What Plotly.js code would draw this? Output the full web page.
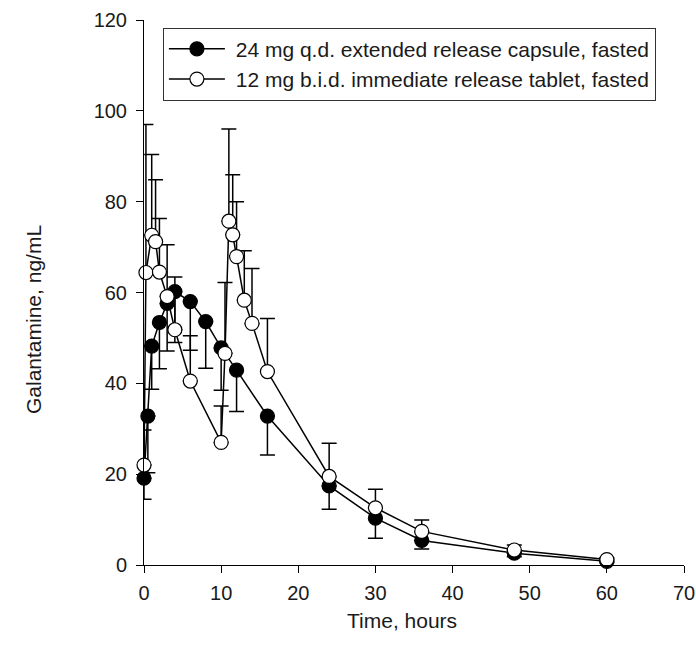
<!DOCTYPE html>
<html>
<head>
<meta charset="utf-8">
<script src="https://cdn.plot.ly/plotly-3.0.1.min.js"></script>
<style>html,body{margin:0;padding:0;background:#fff}#chart{width:696px;height:653px}</style>
</head>
<body>
<div id="chart"></div>
<script>
// 24 mg q.d. extended release capsule, fasted
const timeER = [0, 0.5, 1, 2, 3, 4, 6, 8, 10, 12, 16, 24, 30, 36, 48, 60];
const concER = [19.1, 32.8, 48.2, 53.4, 57.6, 60.2, 58.0, 53.6, 47.8, 42.9, 32.8, 17.4, 10.3, 5.4, 2.6, 0.8];
const errER  = [4.6, 12.5, 9.5, 10.2, 10.5, 11.2, 10.7, 10.3, 9.3, 9.1, 8.6, 5.1, 4.4, 1.9, 0.8, 0.3];

// 12 mg b.i.d. immediate release tablet, fasted
const timeIR = [0, 0.25, 1, 1.5, 2, 3, 4, 6, 10, 10.5, 11, 11.5, 12, 13, 14, 16, 24, 30, 36, 48, 60];
const concIR = [22.0, 64.4, 72.6, 71.2, 64.5, 59.1, 51.8, 40.5, 27.0, 46.6, 75.7, 72.7, 67.9, 58.3, 53.2, 42.6, 19.5, 12.6, 7.4, 3.3, 1.2];
const errIR  = [7.7, 32.6, 17.8, 13.6, 11.8, 11.4, 11.6, 10.0, 8.0, 15.6, 20.3, 13.2, 12.1, 10.9, 12.1, 11.7, 7.3, 4.1, 2.5, 1.1, 0.4];

const seriesNames = ['24 mg q.d. extended release capsule, fasted', '12 mg b.i.d. immediate release tablet, fasted'];
const xTitle = 'Time, hours';
const yTitle = 'Galantamine, ng/mL';
const xTicks = [0, 10, 20, 30, 40, 50, 60, 70];
const yTicks = [0, 20, 40, 60, 80, 100, 120];

const FONT = 'Arial, "Liberation Sans", sans-serif';
const TXT = '#1a1a1a';
const zeros = n => new Array(n).fill(0);

const traces = [
  {
    x: timeER, y: concER, name: '\u00a0' + seriesNames[0], type: 'scatter', mode: 'lines+markers',
    cliponaxis: false,
    line: {color: '#000', width: 1.5},
    marker: {symbol: 'circle', size: 14, color: '#000', line: {color: '#000', width: 1.2}},
    error_y: {type: 'data', symmetric: false, array: zeros(errER.length), arrayminus: errER,
              color: '#000', thickness: 1.5, width: 7.5}
  },
  {
    x: timeIR, y: concIR, name: '\u00a0' + seriesNames[1], type: 'scatter', mode: 'lines+markers',
    cliponaxis: false,
    line: {color: '#000', width: 1.5},
    marker: {symbol: 'circle', size: 14, color: '#fff', line: {color: '#000', width: 1.2}},
    error_y: {type: 'data', symmetric: false, array: errIR, arrayminus: zeros(errIR.length),
              color: '#000', thickness: 1.5, width: 7.5}
  }
];

const layout = {
  width: 696, height: 653,
  margin: {l: 144, r: 12, t: 20, b: 88},
  paper_bgcolor: '#fff', plot_bgcolor: '#fff',
  font: {family: FONT, color: TXT, size: 20},
  showlegend: true,
  legend: {
    x: 0.035, y: 0.986, xanchor: 'left', yanchor: 'top',
    bordercolor: '#333', borderwidth: 1, bgcolor: '#fff',
    font: {family: FONT, size: 21, color: TXT},
    itemwidth: 56, tracegroupgap: 0
  },
  xaxis: {
    range: [0, 70], tickvals: xTicks, ticktext: xTicks.map(String),
    ticks: 'outside', ticklen: 7, tickwidth: 1, tickcolor: '#000',
    ticklabelstandoff: 3,
    showline: true, linecolor: '#000', linewidth: 1,
    showgrid: false, zeroline: false,
    tickfont: {family: FONT, size: 20, color: TXT}
  },
  yaxis: {
    range: [0, 120], tickvals: yTicks, ticktext: yTicks.map(String),
    ticks: 'outside', ticklen: 7, tickwidth: 1, tickcolor: '#000',
    ticklabelstandoff: 5,
    showline: true, linecolor: '#000', linewidth: 1,
    showgrid: false, zeroline: false,
    tickfont: {family: FONT, size: 20, color: TXT}
  },
  annotations: [
    {text: xTitle, xref: 'paper', yref: 'paper', x: 0.477, y: 0, xanchor: 'center', yanchor: 'middle',
     yshift: -55, showarrow: false, font: {family: FONT, size: 21, color: TXT}},
    {text: yTitle, xref: 'paper', yref: 'paper', x: 0, y: 0.4495, xanchor: 'center', yanchor: 'middle',
     xshift: -111, textangle: -90, showarrow: false, font: {family: FONT, size: 21, color: TXT}}
  ]
};

Plotly.newPlot('chart', traces, layout, {displayModeBar: false, staticPlot: true});
</script>
</body>
</html>
